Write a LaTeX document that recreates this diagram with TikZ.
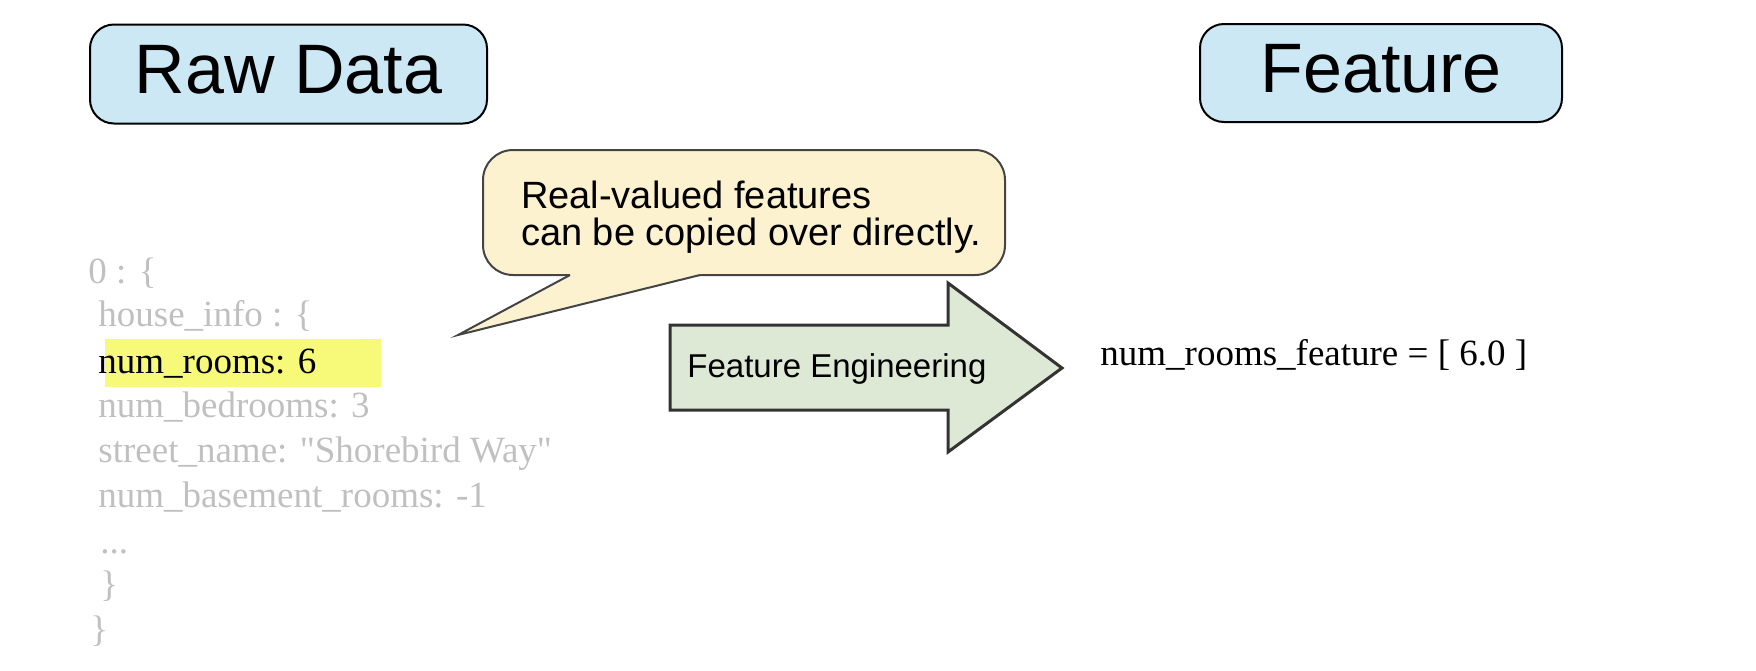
\documentclass[tikz,border=0pt]{standalone}
\usepackage{fontspec}
\setmainfont{Liberation Serif}
\setsansfont{Liberation Sans}
\newfontfamily\codefont{Liberation Serif}[Ligatures=TeXOff]
\definecolor{boxblue}{HTML}{CCE8F5}
\definecolor{calloutfill}{HTML}{FCF2D0}
\definecolor{calloutline}{HTML}{444444}
\definecolor{arrowfill}{HTML}{DDE8D5}
\definecolor{arrowline}{HTML}{333333}
\definecolor{hl}{HTML}{F7FA78}
\definecolor{codegray}{HTML}{C0C0C0}
\begin{document}
\begin{tikzpicture}[x=0.5pt,y=-0.5pt,
  titlebox/.style={draw=black, line width=1pt, fill=boxblue, rounded corners=12pt,
    font=\sffamily\fontsize{35}{42}\selectfont, inner sep=0pt, text depth=5pt},
  calloutbox/.style={draw=calloutline, line width=1pt, fill=calloutfill, rounded corners=15pt, inner sep=0pt},
  callouttext/.style={font=\sffamily\fontsize{19}{18.5}\selectfont, inner sep=0pt, align=left},
  code/.style={anchor=base west, inner sep=0pt, font=\codefont\fontsize{18.5}{22}\selectfont, text=codegray},
  arrowshape/.style={draw=arrowline, line width=1.5pt, fill=arrowfill, line join=miter},
  arrowtext/.style={anchor=base west, inner sep=0pt, font=\sffamily\fontsize{16.5}{20}\selectfont}]
\useasboundingbox (0,0) rectangle (1756,670);

% title boxes
\node[titlebox, minimum width=198.5pt, minimum height=49.5pt] (raw) at (288.5,74) {Raw Data};
\node[titlebox, minimum width=181pt, minimum height=49pt] (feat) at (1381,73) {Feature};

% callout
\node[calloutbox, minimum width=261pt, minimum height=62.5pt] (note) at (744,212.5) {};
\coordinate (tailL) at (570,275);
\coordinate (tailR) at (700,275);
\coordinate (tip) at (458,335);
\fill[calloutfill] (570,272) -- (700,272) -- (tailR) -- (tip) -- (tailL) -- cycle;
\draw[draw=calloutline, line width=1pt, line join=miter] (tailL) -- (tip) -- (tailR);
\node[callouttext] (notetext) at (751,217) {Real-valued features\\can be copied over directly.};

% highlight
\fill[hl] (105,339) rectangle (381,387);

% raw data lines
\node[code] (l0) at (88,283) {0 : \{};
\node[code] (l1) at (98,326) {house\_info : \{};
\node[code, text=black] (l2) at (98,373) {num\_rooms: 6};
\node[code] (l3) at (98,417) {num\_bedrooms: 3};
\node[code] (l4) at (98,462) {street\_name: "Shorebird Way"};
\node[code] (l5) at (98,507) {num\_basement\_rooms: -1};
\node[code] (l6) at (100,553) {...};
\node[code] (l7) at (100,596) {\}};
\node[code] (l8) at (90,641) {\}};

% feature engineering arrow
\draw[arrowshape] (670,325) -- (948,325) -- (948,283) -- (1062,368) -- (948,452) -- (948,410) -- (670,410) -- cycle;
\node[arrowtext] (fe) at (687,377) {Feature Engineering};

% output feature
\node[code, text=black] (out) at (1100,365) {num\_rooms\_feature = [ 6.0 ]};
\end{tikzpicture}
\end{document}
